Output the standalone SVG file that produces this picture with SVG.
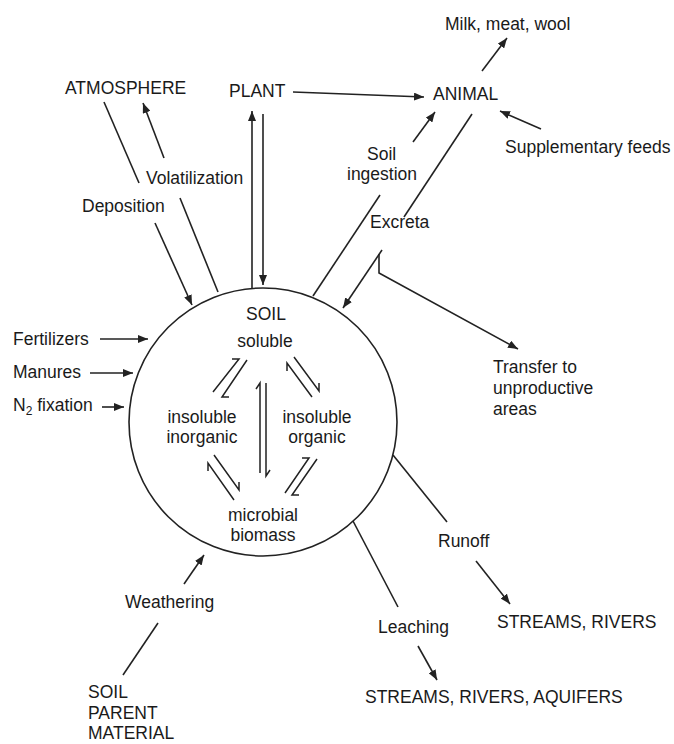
<svg xmlns="http://www.w3.org/2000/svg" width="674" height="744" viewBox="0 0 674 744">
<style>
text{font-family:"Liberation Sans",Arial,Helvetica,sans-serif;font-size:17.5px;fill:#1a1a1a}
.c{text-anchor:middle}
.ln{stroke:#222;stroke-width:1.6;fill:none}
.ar{stroke:#222;stroke-width:1.6;fill:none;marker-end:url(#ah)}
.hp{stroke:#222;stroke-width:1.5;fill:none;stroke-linejoin:miter}
</style>
<defs>
<marker id="ah" markerUnits="userSpaceOnUse" markerWidth="10" markerHeight="8" refX="10" refY="4" orient="auto">
<path d="M0,0 L10,4 L0,8 z" fill="#222"/>
</marker>
</defs>
<rect width="674" height="744" fill="#fff"/>

<g id="soil">
<circle cx="263" cy="422" r="134" fill="none" stroke="#222" stroke-width="1.6"/>
<text class="c" x="266" y="320">SOIL</text>
<text class="c" x="265" y="347">soluble</text>
<text class="c" x="202" y="423">insoluble</text>
<text class="c" x="202" y="443">inorganic</text>
<text class="c" x="317" y="423">insoluble</text>
<text class="c" x="317" y="443">organic</text>
<text class="c" x="263" y="521">microbial</text>
<text class="c" x="263" y="541">biomass</text>
<g id="equilibria">
<path class="hp" d="M213,392 L239,359 L232,359"/>
<path class="hp" d="M247,360 L222,397 L229,397"/>
<path class="hp" d="M312,397 L287,363 L287,371"/>
<path class="hp" d="M294,357 L319,391 L319,383"/>
<path class="hp" d="M234,500 L208,463 L208,471"/>
<path class="hp" d="M214,455 L239,490 L239,482"/>
<path class="hp" d="M285,493 L309,458 L302,458"/>
<path class="hp" d="M317,459 L292,495 L299,495"/>
<path class="hp" d="M260,473 L260,383 L256,389"/>
<path class="hp" d="M266,383 L266,476 L270,470"/>
</g>
</g>

<g id="atmosphere"><text x="65" y="94">ATMOSPHERE</text></g>
<g id="plant"><text x="229" y="97">PLANT</text></g>
<g id="animal"><text x="433" y="100">ANIMAL</text></g>
<g id="milk"><text x="445" y="30">Milk, meat, wool</text></g>
<g id="supplementary"><text x="505" y="153">Supplementary feeds</text></g>
<g id="transfer"><text x="493" y="373">Transfer to</text><text x="493" y="394">unproductive</text><text x="493" y="415">areas</text></g>
<g id="fertilizers"><text x="13" y="345">Fertilizers</text></g>
<g id="manures"><text x="13" y="378">Manures</text></g>
<g id="n2fixation"><text x="13" y="411">N<tspan font-size="12" dy="4">2</tspan><tspan dy="-4"> fixation</tspan></text></g>
<g id="streams1"><text x="497" y="628">STREAMS, RIVERS</text></g>
<g id="streams2"><text x="365" y="703">STREAMS, RIVERS, AQUIFERS</text></g>
<g id="parent"><text x="88" y="698">SOIL</text><text x="88" y="719">PARENT</text><text x="88" y="739">MATERIAL</text></g>

<g id="labels">
<text x="146" y="184">Volatilization</text>
<text x="82" y="212">Deposition</text>
<text x="367" y="160">Soil</text>
<text x="347" y="180">ingestion</text>
<text x="370" y="228">Excreta</text>
<text x="438" y="547">Runoff</text>
<text x="378" y="633">Leaching</text>
<text x="125" y="608">Weathering</text>
</g>

<g id="connectors">
<line class="ln" x1="104" y1="102" x2="139" y2="183"/>
<line class="ar" x1="155" y1="223" x2="192" y2="305"/>
<line class="ln" x1="218" y1="292" x2="180" y2="198"/>
<line class="ar" x1="164" y1="158" x2="143" y2="103"/>
<line class="ar" x1="252" y1="289" x2="252" y2="111"/>
<line class="ar" x1="263" y1="114" x2="263" y2="285"/>
<line class="ar" x1="293" y1="92" x2="424" y2="97"/>
<line class="ar" x1="482" y1="71" x2="507" y2="38"/>
<line class="ar" x1="541" y1="129" x2="500" y2="111"/>
<line class="ln" x1="313" y1="296" x2="380" y2="195"/>
<line class="ar" x1="413" y1="142" x2="435" y2="112"/>
<line class="ln" x1="472" y1="114" x2="404" y2="217"/>
<line class="ar" x1="382" y1="250" x2="343" y2="308"/>
<polyline class="ar" points="379,254 379,273 518,349"/>
<line class="ln" x1="393" y1="455" x2="447" y2="522"/>
<line class="ar" x1="476" y1="561" x2="510" y2="604"/>
<line class="ln" x1="353" y1="521" x2="398" y2="607"/>
<line class="ar" x1="418" y1="646" x2="437" y2="680"/>
<line class="ln" x1="123" y1="675" x2="158" y2="623"/>
<line class="ar" x1="184" y1="584" x2="204" y2="555"/>
<line class="ar" x1="100" y1="339" x2="148" y2="339"/>
<line class="ar" x1="90" y1="373" x2="133" y2="373"/>
<line class="ar" x1="102" y1="407" x2="124" y2="407"/>
</g>
</svg>
